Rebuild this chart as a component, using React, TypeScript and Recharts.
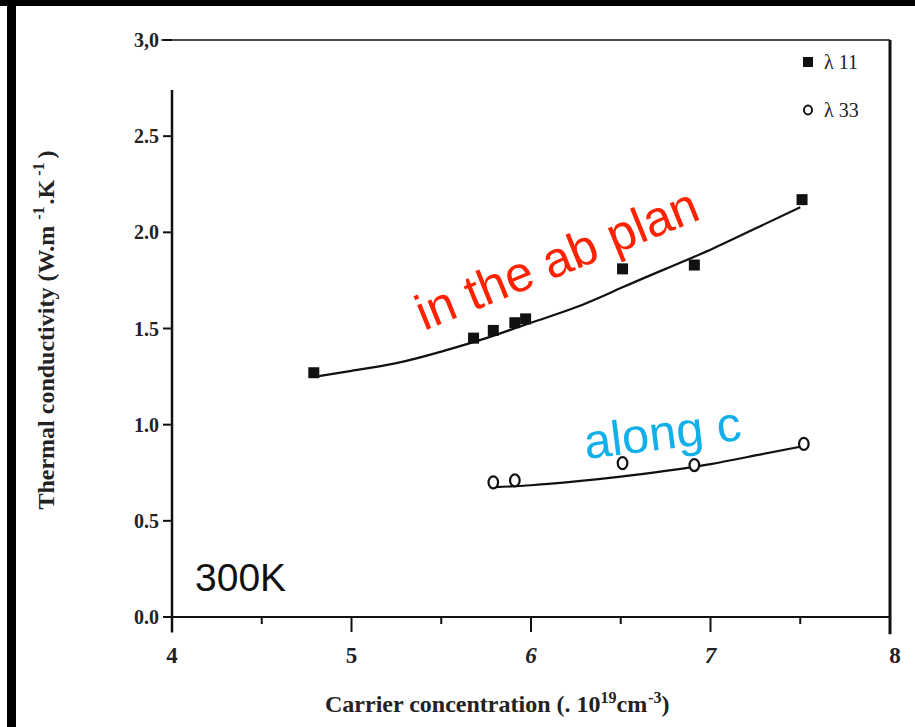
import React from "react"
import {
  ComposedChart,
  Line,
  Scatter,
  XAxis,
  YAxis,
  ReferenceLine
} from "recharts"

// measured points, in-plane (lambda 11)
const abX = [4.79, 5.68, 5.79, 5.91, 5.97, 6.51, 6.91, 7.51]
const abY = [1.27, 1.45, 1.49, 1.53, 1.55, 1.81, 1.83, 2.17]

// measured points, along c (lambda 33)
const cX = [5.79, 5.91, 6.51, 6.91, 7.52]
const cY = [0.7, 0.71, 0.8, 0.79, 0.9]

// fitted curves
const abFitX = [4.8, 5.0, 5.25, 5.5, 5.75, 6.0, 6.25, 6.5, 6.75, 7.0, 7.25, 7.5]
const abFitY = [1.25, 1.28, 1.32, 1.38, 1.45, 1.53, 1.61, 1.71, 1.81, 1.91, 2.02, 2.13]
const cFitX = [5.8, 6.0, 6.25, 6.5, 6.75, 7.0, 7.25, 7.5]
const cFitY = [0.675, 0.685, 0.705, 0.73, 0.76, 0.795, 0.84, 0.885]

const xTicks = [4, 4.5, 5, 5.5, 6, 6.5, 7, 7.5, 8]
const yTicks = [0, 0.5, 1, 1.5, 2, 2.5, 3]

const zip = (xs: number[], ys: number[]) => xs.map((x, i) => ({ x, y: ys[i] }))

const abData = zip(abX, abY)
const cData = zip(cX, cY)
const abFit = zip(abFitX, abFitY)
const cFit = zip(cFitX, cFitY)

const SERIF = "'Liberation Serif', 'DejaVu Serif', serif"
const SANS = "'Liberation Sans', Arial, sans-serif"

const Square = (p: any) => (
  <rect x={p.cx - 5.5} y={p.cy - 5.5} width={11} height={11} fill="#111" />
)

const Ring = (p: any) => (
  <ellipse cx={p.cx} cy={p.cy} rx={4.8} ry={6} fill="#fff" stroke="#111" strokeWidth={2.2} />
)

const XTick = (p: any) => {
  const v = p.payload.value
  const major = Number.isInteger(v)
  return (
    <g>
      <line x1={p.x} x2={p.x} y1={p.y} y2={p.y + (major ? 15 : 7)} stroke="#111" strokeWidth={2} />
      {major && (
        <text
          x={v === 8 ? p.x + 5 : p.x}
          y={p.y + 46}
          textAnchor="middle"
          fontFamily={SERIF}
          fontWeight="bold"
          fontStyle={v === 6 || v === 7 ? "italic" : "normal"}
          fontSize={23}
          fill="#222"
        >
          {v}
        </text>
      )}
    </g>
  )
}

const yFmt = (v: number) => (v === 3 ? "3,0" : v.toFixed(1))

export default function App() {
  return (
    <div style={{ position: "absolute", left: 0, top: 0, width: 915, height: 727, background: "#fff" }}>
      <ComposedChart
        width={915}
        height={727}
        margin={{ top: 40, right: 25, left: 112, bottom: 70 }}
      >
        <XAxis
          type="number"
          dataKey="x"
          domain={[4, 8]}
          ticks={xTicks}
          tick={<XTick />}
          tickLine={false}
          tickSize={0}
          tickMargin={0}
          height={40}
          axisLine={{ stroke: "#111", strokeWidth: 2 }}
          interval={0}
          allowDataOverflow
        />
        <YAxis
          type="number"
          dataKey="y"
          domain={[0, 3]}
          ticks={yTicks}
          width={60}
          tickSize={9}
          tickMargin={4}
          tickFormatter={yFmt}
          axisLine={false}
          tickLine={{ stroke: "#111", strokeWidth: 2 }}
          tick={{ fontFamily: SERIF, fontWeight: "bold", fontSize: 20, fill: "#222" }}
          interval={0}
          allowDataOverflow
        />
        <ReferenceLine
          segment={[{ x: 4, y: 2.74 }, { x: 4, y: -0.08 }]}
          stroke="#111"
          strokeWidth={2.5}
          ifOverflow="visible"
        />
        <ReferenceLine
          segment={[{ x: 3.94, y: 3 }, { x: 8, y: 3 }]}
          stroke="#111"
          strokeWidth={1.5}
          ifOverflow="visible"
        />
        <ReferenceLine
          segment={[{ x: 8, y: 3 }, { x: 8, y: -0.09 }]}
          stroke="#111"
          strokeWidth={3}
          ifOverflow="visible"
        />
        <Line
          data={abFit}
          dataKey="y"
          type="natural"
          stroke="#111"
          strokeWidth={2.2}
          dot={false}
          isAnimationActive={false}
        />
        <Line
          data={cFit}
          dataKey="y"
          type="natural"
          stroke="#111"
          strokeWidth={2.2}
          dot={false}
          isAnimationActive={false}
        />
        <Scatter data={abData} shape={<Square />} isAnimationActive={false} />
        <Scatter data={cData} shape={<Ring />} isAnimationActive={false} />
      </ComposedChart>

      <svg
        width={915}
        height={727}
        style={{ position: "absolute", left: 0, top: 0, pointerEvents: "none" }}
      >
        {/* scan border */}
        <rect x={0} y={0} width={915} height={6} fill="#000" />
        <rect x={7} y={0} width={9} height={727} fill="#000" />

        {/* axis titles */}
        <text
          transform="translate(54,330) rotate(-90)"
          textAnchor="middle"
          fontFamily={SERIF}
          fontWeight="bold"
          fontSize={24}
          fill="#222"
        >
          Thermal conductivity (W.m
          <tspan dx={6} dy={-10} fontSize={16}>-1</tspan>
          <tspan dx={2} dy={10}>.K</tspan>
          <tspan dx={4} dy={-10} fontSize={16}>-1</tspan>
          <tspan dx={4} dy={10}>)</tspan>
        </text>
        <text x={325} y={712} fontFamily={SERIF} fontWeight="bold" fontSize={24} fill="#222">
          Carrier concentration (. 10
          <tspan dy={-9} fontSize={16}>19</tspan>
          <tspan dy={9}>cm</tspan>
          <tspan dx={1} dy={-9} fontSize={16}>-3</tspan>
          <tspan dy={9}>)</tspan>
        </text>

        {/* legend */}
        <rect x={803} y={57} width={10} height={10} fill="#111" />
        <text x={824} y={69} fontFamily={SERIF} fontSize={20} fill="#222">λ 11</text>
        <ellipse cx={808} cy={110} rx={4} ry={4.5} fill="#fff" stroke="#111" strokeWidth={2} />
        <text x={824} y={117} fontFamily={SERIF} fontSize={20} fill="#222">λ 33</text>

        {/* annotations */}
        <text
          transform="translate(424,331) rotate(-22)"
          fontFamily={SANS}
          fontSize={50}
          fill="#ff2200"
        >
          in the ab plan
        </text>
        <text
          transform="translate(586,459) rotate(-7)"
          fontFamily={SANS}
          fontSize={49}
          fill="#12b0ea"
        >
          along c
        </text>
        <text x={195} y={591} fontFamily={SANS} fontSize={39} fill="#111">
          300K
        </text>
      </svg>
    </div>
  )
}
